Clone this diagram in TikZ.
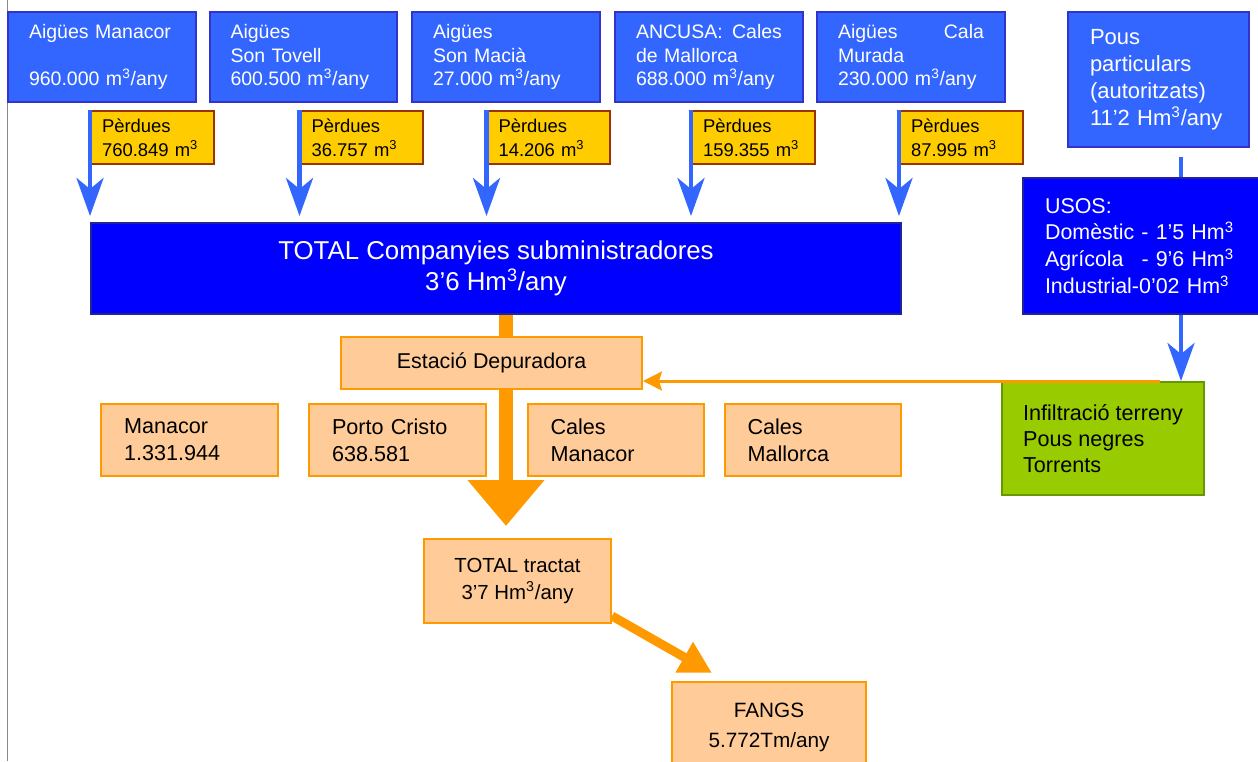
\documentclass[tikz,border=0pt]{standalone}
\usepackage{fontspec}
\setmainfont{Liberation Sans}
\usetikzlibrary{calc}
\usetikzlibrary{backgrounds}
\usetikzlibrary{positioning}
\usetikzlibrary{arrows.meta}

\definecolor{companyblue}{HTML}{3366FF}
\definecolor{companyedge}{HTML}{3333CC}
\definecolor{totalblue}{HTML}{0000FF}
\definecolor{totaledge}{HTML}{222299}
\definecolor{lossyellow}{HTML}{FFCC00}
\definecolor{lossedge}{HTML}{993300}
\definecolor{plantfill}{HTML}{FFCC99}
\definecolor{plantedge}{HTML}{FF9900}
\definecolor{soilgreen}{HTML}{99CC00}
\definecolor{soiledge}{HTML}{669900}
\definecolor{framegray}{HTML}{8A8A8A}

\tikzset{
  company/.style={draw=companyedge, fill=companyblue, line width=0.04cm, text=white,
    align=left, text width=2.92cm, inner xsep=0.42cm, minimum height=1.8cm,
    font=\fontsize{11.1}{13.6}\selectfont},
  loss/.style={draw=lossedge, fill=lossyellow, line width=0.04cm, align=left,
    text width=2.02cm, inner xsep=0.22cm, minimum height=1.06cm,
    font=\fontsize{10.5}{13.6}\selectfont},
  supply/.style={draw=totaledge, fill=totalblue, line width=0.04cm, text=white},
  plant/.style={draw=plantedge, fill=plantfill, line width=0.04cm},
  town/.style={plant, align=left, text width=2.62cm, inner xsep=0.46cm,
    minimum height=1.44cm, font=\fontsize{12.3}{15.3}\selectfont},
  lossarrow/.style={draw=companyblue, line width=0.09cm,
    -{Stealth[length=0.76cm, width=0.54cm, inset=0.22cm]}},
  mainflow/.style={draw=plantedge, line width=0.28cm,
    -{Triangle[length=0.92cm, width=1.48cm]}},
  sludgeflow/.style={draw=plantedge, line width=0.18cm,
    -{Triangle[length=0.64cm, width=0.66cm]}},
  seepflow/.style={draw=plantedge, line width=0.06cm,
    -{Stealth[length=0.38cm, width=0.38cm, inset=0.06cm]}},
  frameline/.style={draw=framegray, line width=0.04cm}
}

\begin{document}
\begin{tikzpicture}[x=0.02cm, y=-0.02cm]
  \useasboundingbox (0,0) rectangle (1258,761);
  % Page edge
  \draw[frameline] (7.5,0) -- (7.5,761);

  % Companies
  \node[company] (aigmanacor) at (102,57) {Aigües Manacor\\ \strut\\960.000 m\textsuperscript{3}/any};
  \node[company] (sontovell) at (303.5,57) {Aigües\\Son Tovell\\600.500 m\textsuperscript{3}/any};
  \node[company] (sonmacia) at (506,57) {Aigües\\Son Macià\\27.000 m\textsuperscript{3}/any};
  \node[company] (ancusa) at (709,57) {ANCUSA:\hfill Cales\\de Mallorca\\688.000 m\textsuperscript{3}/any};
  \node[company] (calamurada) at (911,57) {Aigües\hfill Cala\\Murada\\230.000 m\textsuperscript{3}/any};
  \node[company, text width=2.74cm, inner xsep=0.44cm, minimum height=2.7cm,
    font=\fontsize{12.5}{15.3}\selectfont] (pous) at (1158.5,79.5)
    {Pous\\particulars\\(autoritzats)\\11’2 Hm\textsuperscript{3}/any};

  % Losses
  \node[loss] (loss1) at (152.5,137.5) {Pèrdues\\760.849 m\textsuperscript{3}};
  \node[loss] (loss2) at (362,137.5) {Pèrdues\\36.757 m\textsuperscript{3}};
  \node[loss] (loss3) at (549,137.5) {Pèrdues\\14.206 m\textsuperscript{3}};
  \node[loss] (loss4) at (753.5,137.5) {Pèrdues\\159.355 m\textsuperscript{3}};
  \node[loss] (loss5) at (961.5,137.5) {Pèrdues\\87.995 m\textsuperscript{3}};

  % Totals and uses
  \node[supply, align=center, minimum width=16.2cm, minimum height=1.82cm,
    font=\fontsize{14.7}{17.6}\selectfont] (total) at (496,268.5)
    {TOTAL Companyies subministradores\\3’6 Hm\textsuperscript{3}/any};
  \node[supply, align=left, text width=3.94cm, inner xsep=0.44cm, minimum height=2.72cm,
    font=\fontsize{12.2}{15.3}\selectfont] (usos) at (1143.5,246)
    {USOS:\\Domèstic - 1’5 Hm\textsuperscript{3}\\Agrícola\hspace{0.5em} - 9’6 Hm\textsuperscript{3}\\Industrial-0’02 Hm\textsuperscript{3}};

  % Treatment
  \node[plant, minimum width=6.02cm, minimum height=1.04cm,
    font=\fontsize{12.2}{15}\selectfont] (estacio) at (491.5,363) {Estació Depuradora};
  \node[town] (manacor) at (189.5,440) {Manacor\\1.331.944};
  \node[town] (porto) at (397.5,440) {Porto Cristo\\638.581};
  \node[town] (calesmanacor) at (616,440) {Cales\\Manacor};
  \node[town] (calesmallorca) at (813,440) {Cales\\Mallorca};
  \node[draw=soiledge, fill=soilgreen, line width=0.04cm, align=left, minimum width=4.04cm,
    minimum height=2.26cm, font=\fontsize{12.3}{15}\selectfont] (green) at (1103,438.5)
    {Infiltració terreny\\Pous negres\\Torrents};
  \node[plant, align=center, minimum width=3.74cm, minimum height=1.68cm,
    font=\fontsize{11.6}{15.3}\selectfont] (tractat) at (517.5,581)
    {TOTAL tractat\\3’7 Hm\textsuperscript{3}/any};
  \node[plant, align=center, minimum width=3.88cm, minimum height=1.8cm,
    font=\fontsize{11.8}{17}\selectfont] (fangs) at (769,727)
    {FANGS\\5.772Tm/any};

  % Arrows
  \coordinate (flow) at (506,0);
  \coordinate (drop) at (1181,0);
  \coordinate (seep) at (1160,0);
  \begin{scope}[on background layer]
    \draw[mainflow, shorten >=0.24cm] (flow |- total.south) -- (flow |- tractat.north);
    \draw[lossarrow] ($(pous.south -| drop)+(0,9)$) -- (drop |- green.north);
    \draw[sludgeflow] ($(tractat.south east)+(0,-8)$) -- ($(fangs.north west)+(41,-8)$);
  \end{scope}
  \draw[lossarrow, shorten >=0.12cm] (loss1.north west) -- (loss1.north west |- total.north);
  \draw[lossarrow, shorten >=0.12cm] (loss2.north west) -- (loss2.north west |- total.north);
  \draw[lossarrow, shorten >=0.12cm] (loss3.north west) -- (loss3.north west |- total.north);
  \draw[lossarrow, shorten >=0.12cm] (loss4.north west) -- (loss4.north west |- total.north);
  \draw[lossarrow, shorten >=0.12cm] (loss5.north west) -- (loss5.north west |- total.north);
  \draw[seepflow] (seep |- green.north) -- (estacio.east |- green.north);
\end{tikzpicture}
\end{document}
